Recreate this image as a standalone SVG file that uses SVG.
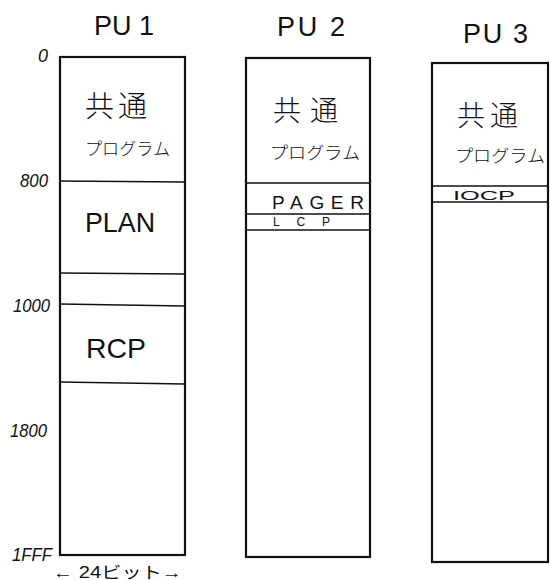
<svg xmlns="http://www.w3.org/2000/svg" width="550" height="580" viewBox="0 0 550 580">
<style>
.box{fill:#fff;stroke:#111;stroke-width:2.2}
.div{stroke:#111;stroke-width:1.3;fill:none}
.t{font-family:"Liberation Sans","Noto Sans CJK JP",sans-serif;fill:#111}
.title{font-size:27px;font-weight:300}
.jp{font-family:"Noto Sans CJK JP",sans-serif;font-weight:300}
.addr{font-size:18px;font-style:italic}
</style>
<rect width="550" height="580" fill="#fff"/>
<g id="pu1">
<text class="t title" x="94" y="35" textLength="60" lengthAdjust="spacing">PU 1</text>
<rect class="box" x="60" y="57" width="125" height="498"/>
<line class="div" x1="60" y1="181" x2="185" y2="182"/>
<line class="div" x1="60" y1="273" x2="185" y2="274"/>
<line class="div" x1="60" y1="304" x2="185" y2="306"/>
<line class="div" x1="60" y1="382" x2="185" y2="384"/>
<text class="t jp" x="85" y="117" font-size="29" textLength="62" lengthAdjust="spacing">共通</text>
<text class="t jp" x="85" y="155" font-size="17" textLength="85" lengthAdjust="spacingAndGlyphs">プログラム</text>
<text class="t" x="85" y="232" font-size="28" textLength="70" lengthAdjust="spacingAndGlyphs">PLAN</text>
<text class="t" x="86" y="358" font-size="28" textLength="60" lengthAdjust="spacingAndGlyphs">RCP</text>
</g>
<g id="axis">
<text class="t addr" x="38" y="62" textLength="10" lengthAdjust="spacingAndGlyphs">0</text>
<text class="t addr" x="20" y="187" textLength="28" lengthAdjust="spacingAndGlyphs">800</text>
<text class="t addr" x="13" y="312" textLength="37" lengthAdjust="spacingAndGlyphs">1000</text>
<text class="t addr" x="10" y="437" textLength="37" lengthAdjust="spacingAndGlyphs">1800</text>
<text class="t addr" x="12" y="561" textLength="40" lengthAdjust="spacingAndGlyphs">1FFF</text>
<text class="t" x="53" y="578" font-size="16" textLength="129" lengthAdjust="spacingAndGlyphs">← 24ビット→</text>
</g>
<g id="pu2">
<text class="t title" x="277" y="36" textLength="68" lengthAdjust="spacing">PU 2</text>
<rect class="box" x="246" y="58" width="124" height="499"/>
<line class="div" x1="246" y1="183" x2="370" y2="183"/>
<line class="div" x1="246" y1="214" x2="370" y2="214"/>
<line class="div" x1="246" y1="230" x2="370" y2="230"/>
<text class="t jp" x="273" y="121" font-size="28" textLength="65" lengthAdjust="spacing">共通</text>
<text class="t jp" x="270" y="159" font-size="17" textLength="90" lengthAdjust="spacingAndGlyphs">プログラム</text>
<text class="t" x="272" y="209" font-size="19" textLength="92" lengthAdjust="spacing">PAGER</text>
<text class="t" x="273" y="226" font-size="12" textLength="57" lengthAdjust="spacing">LCP</text>
</g>
<g id="pu3">
<text class="t title" x="463" y="43" textLength="65" lengthAdjust="spacing">PU 3</text>
<rect class="box" x="432" y="63" width="116" height="499"/>
<line class="div" x1="432" y1="186" x2="548" y2="186"/>
<line class="div" x1="432" y1="202" x2="548" y2="202"/>
<text class="t jp" x="457" y="126" font-size="28" textLength="61" lengthAdjust="spacing">共通</text>
<text class="t jp" x="455" y="162" font-size="17" textLength="90" lengthAdjust="spacingAndGlyphs">プログラム</text>
<text class="t" x="453" y="200" font-size="12" textLength="62" lengthAdjust="spacingAndGlyphs">IOCP</text>
</g>
</svg>
